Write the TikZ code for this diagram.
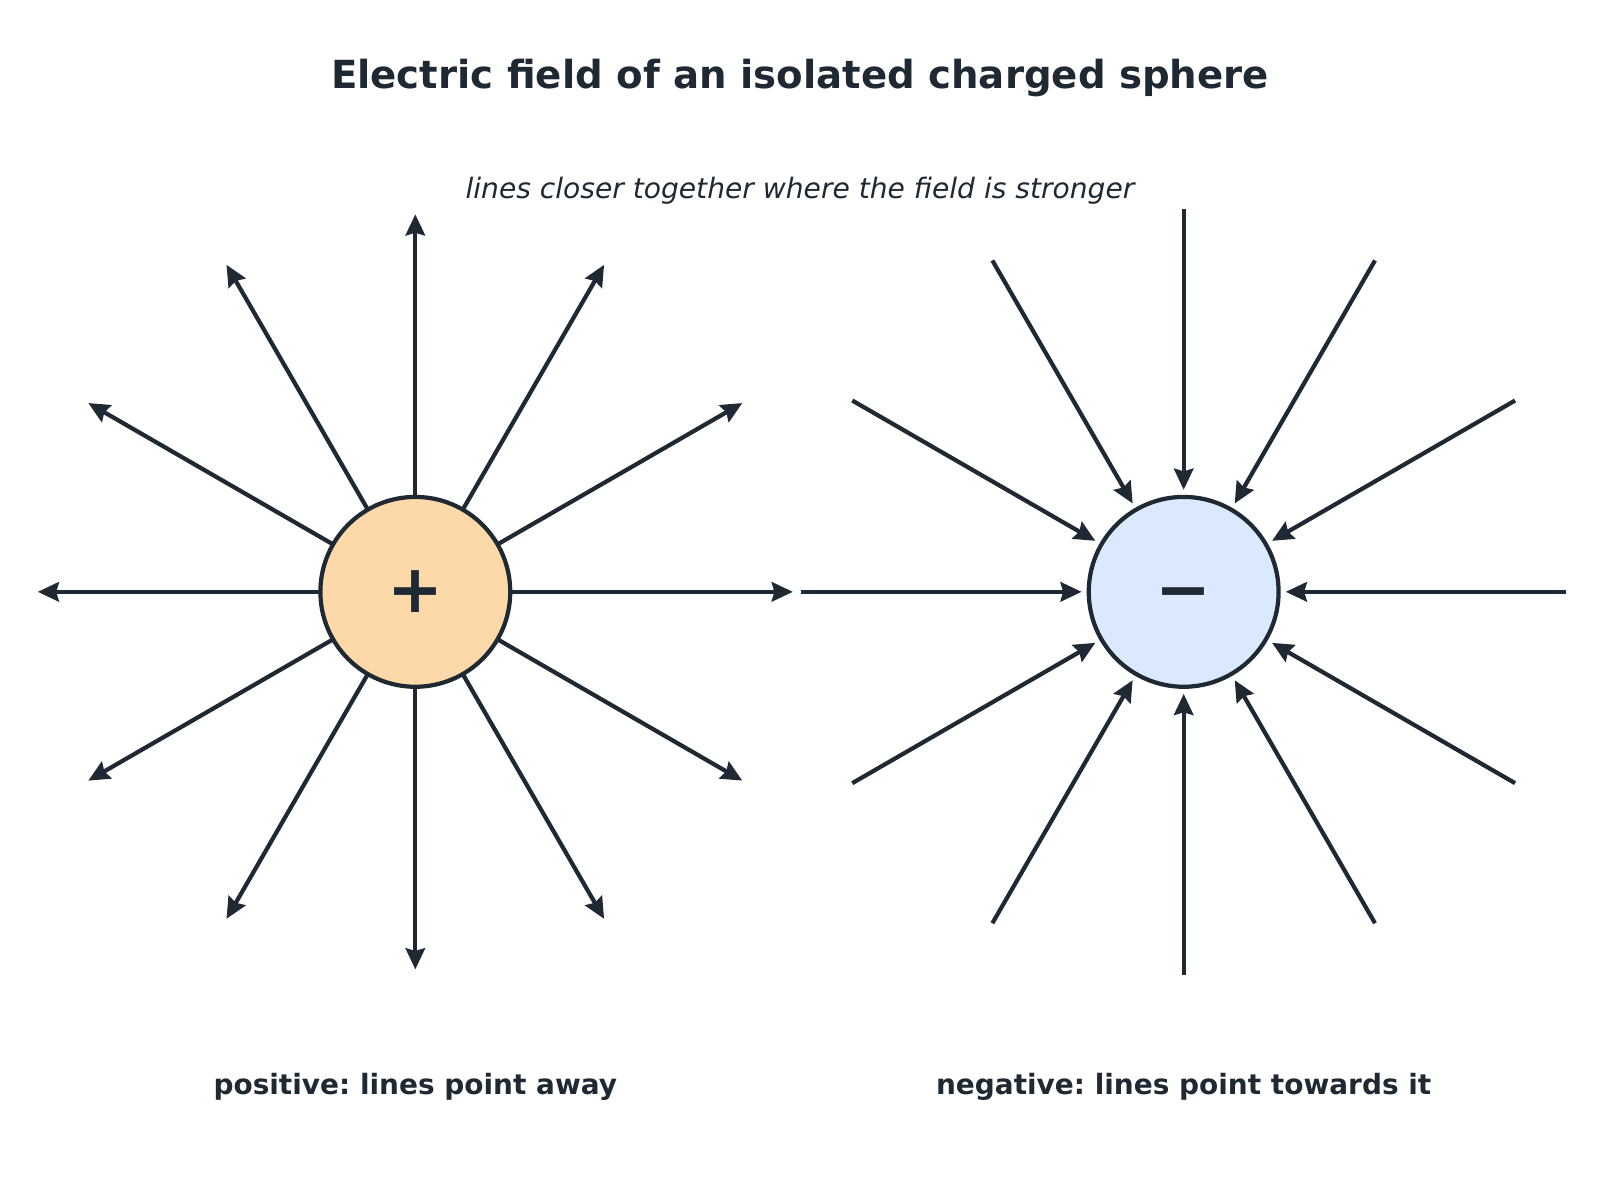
\documentclass[tikz,border=0pt]{standalone}
\usepackage{fontspec}
\setmainfont{DejaVu Sans}
\usetikzlibrary{arrows.meta,calc}
\definecolor{ink}{HTML}{1F2933}
\definecolor{posfill}{HTML}{FDD8A8}
\definecolor{negfill}{HTML}{DBE9FE}
\frenchspacing
\tikzset{
  sphere/.style={circle, draw=ink, line width=2.4pt, minimum size=108pt, inner sep=0pt, text=ink, font=\fontsize{38}{38}\selectfont\bfseries},
  fieldline/.style={draw=ink, line width=2.4pt, -{Stealth[length=12pt,width=11pt,inset=1.5pt]}},
  caption/.style={text=ink, font=\fontsize{15.9}{18}\selectfont\bfseries}
}
\begin{document}
\begin{tikzpicture}[x=0.0204cm, y=-0.0204cm]
  \useasboundingbox (0,0) rectangle (1568,1176);
  \node[text=ink, font=\fontsize{22}{26}\selectfont\bfseries] (title) at (784,76) {Electric field of an isolated charged sphere};
  \node[text=ink, font=\fontsize{16}{19}\selectfont\itshape] (sub) at (784,187) {lines closer together where the field is stronger};

  \node[sphere, fill=posfill] (pos) at (407,580) {+};
  \node[sphere, fill=negfill] (neg) at (1160,580) {\raisebox{-12pt}[0pt][0pt]{−}};

  % outward lines
  \foreach \a in {0,30,...,330} {
    \coordinate (pbeg\a) at ($(pos.center)+(\a:94)$);
    \coordinate (pend\a) at ($(pos.center)+(\a:370)$);
    \draw[fieldline] (pbeg\a) -- (pend\a);
  }
  % inward lines
  \foreach \a in {0,30,...,330} {
    \coordinate (nstart\a) at ($(neg.center)+(\a:375)$);
    \coordinate (nend\a) at ($(neg.center)+(\a:100)$);
    \draw[fieldline] (nstart\a) -- (nend\a);
  }

  \node[caption] (lpos) at (407,1065) {positive: lines point away};
  \node[caption] (lneg) at (1160,1065) {negative: lines point towards it};
\end{tikzpicture}
\end{document}
